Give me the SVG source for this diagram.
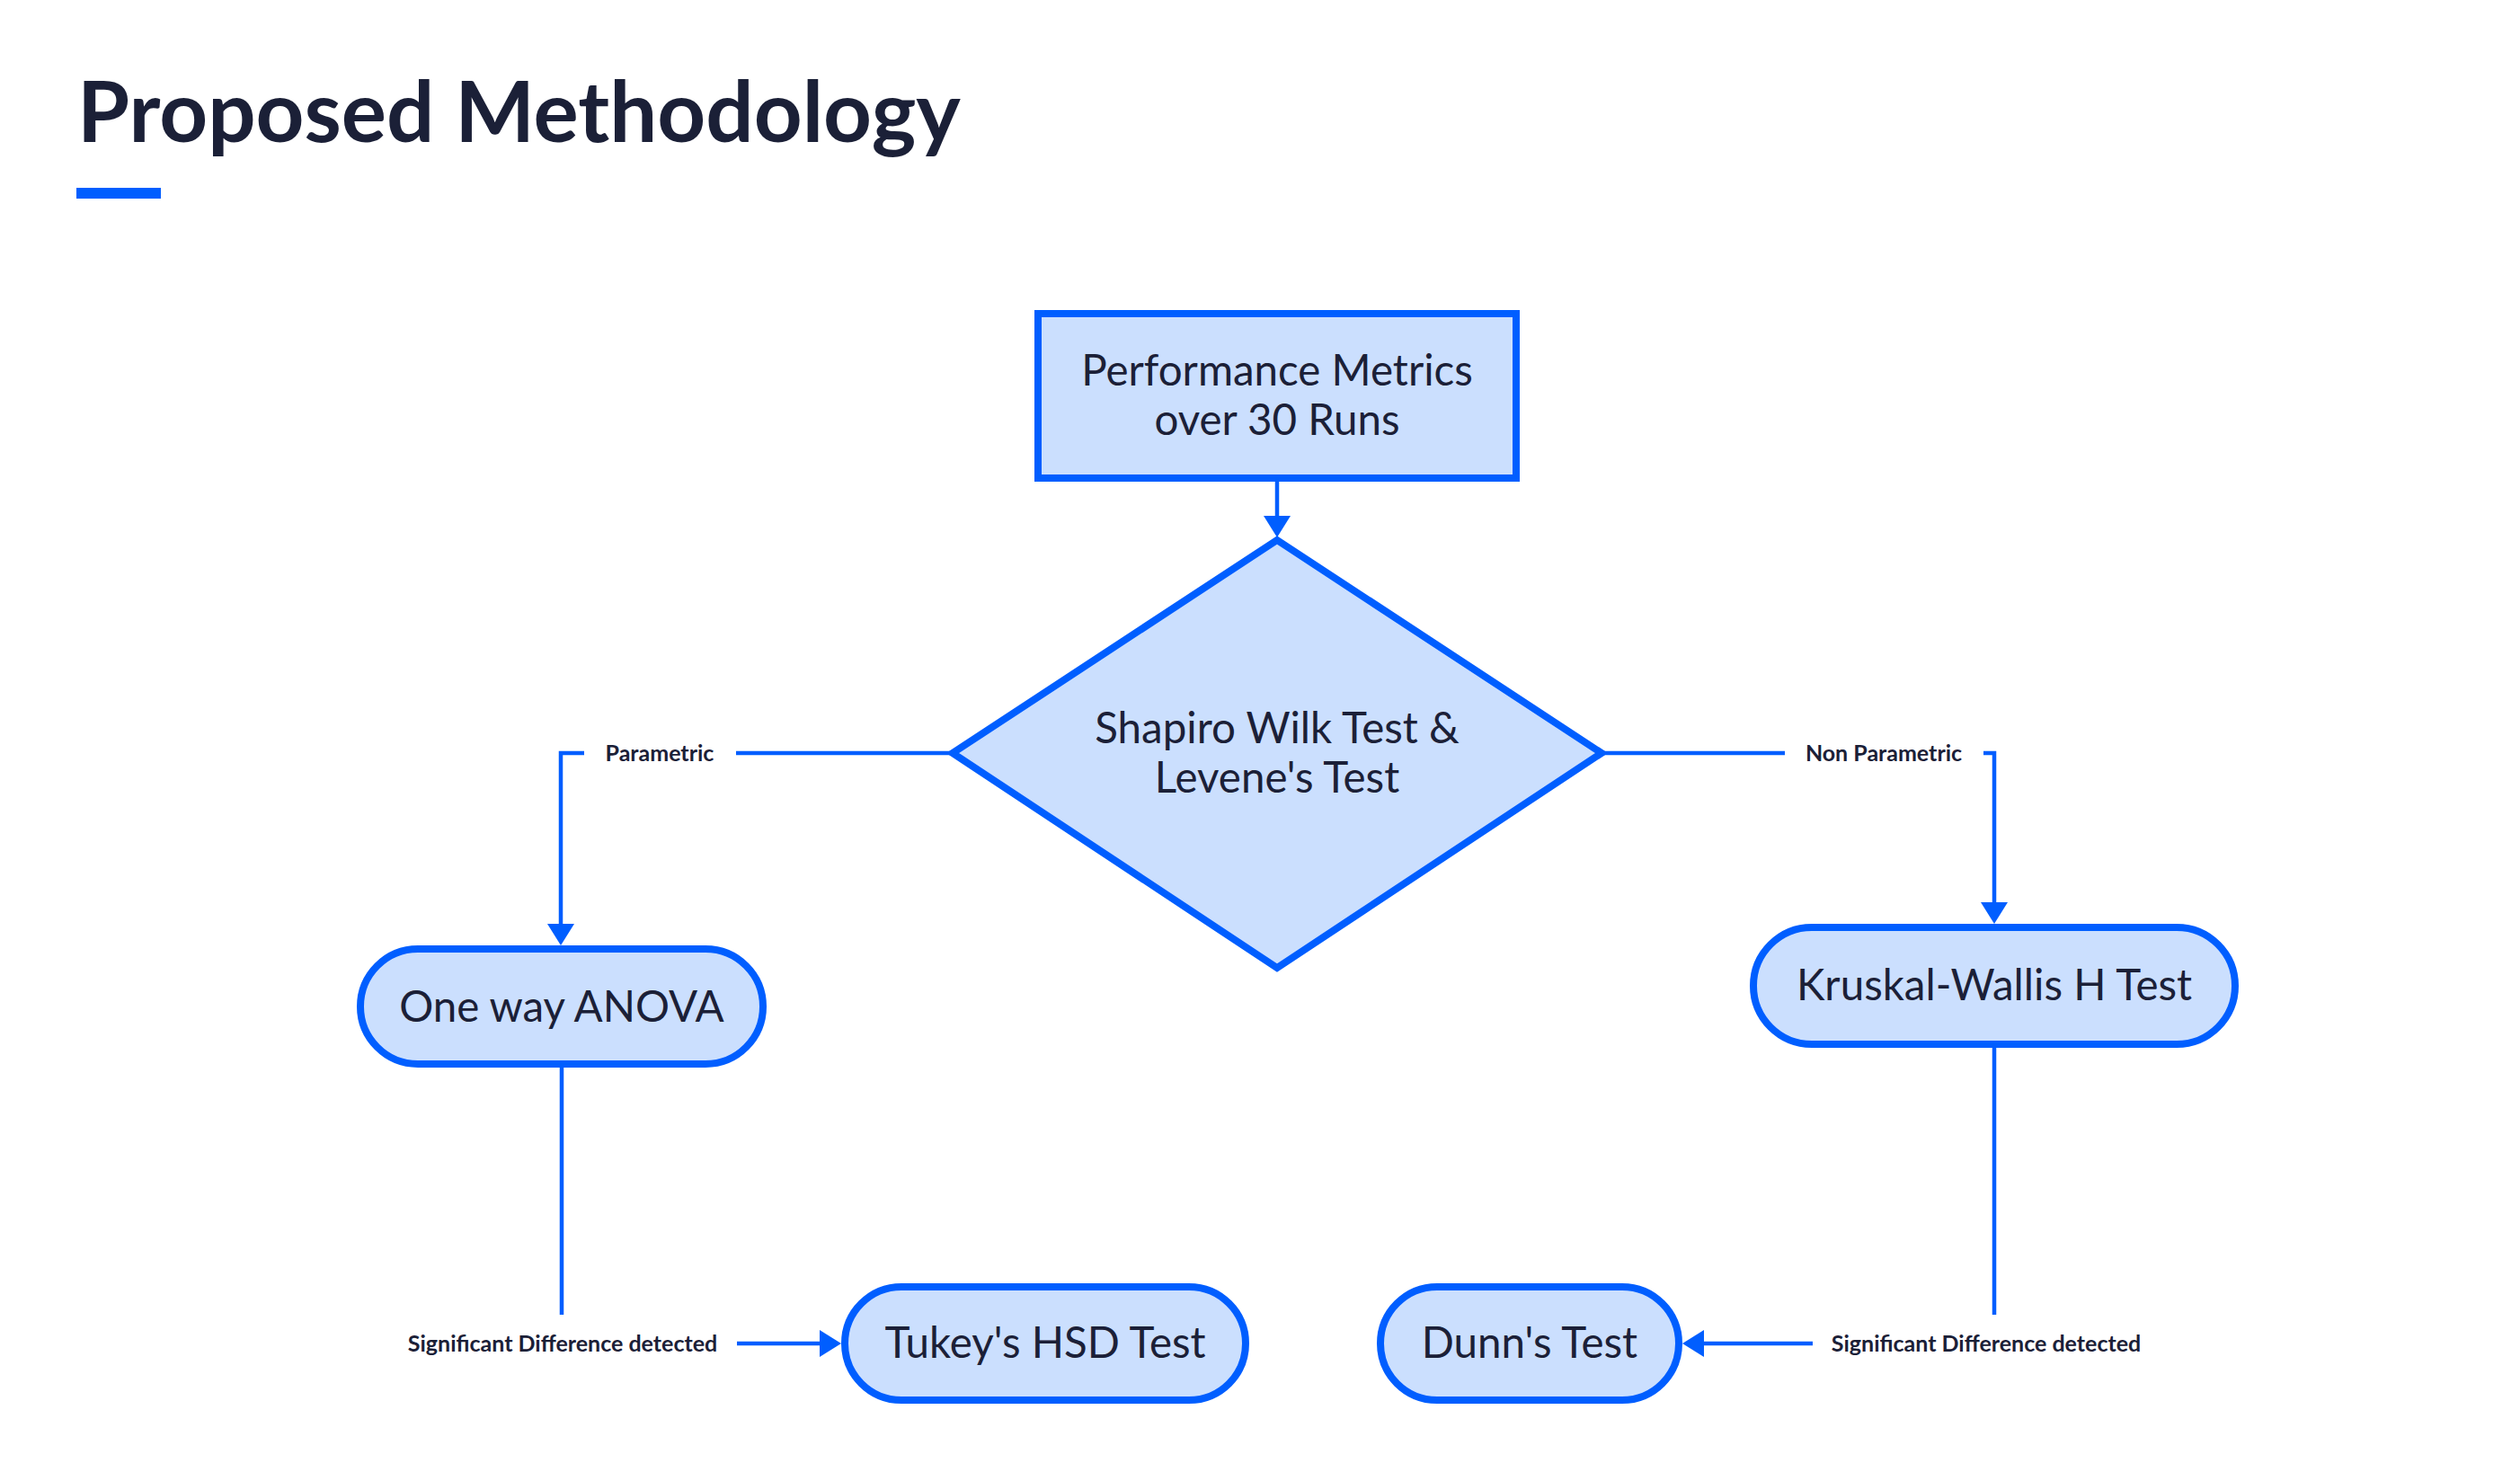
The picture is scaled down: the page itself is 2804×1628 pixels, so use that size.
<svg xmlns="http://www.w3.org/2000/svg" width="2804" height="1628" viewBox="0 0 2804 1628">
<style>
  .node { fill: #cbdffe; stroke: #005eff; stroke-width: 8; }
  .ntext { font-family: Lato, "Noto Sans", sans-serif; font-size: 47.5px; fill: #1b2037; text-anchor: middle; }
  .edge { fill: none; stroke: #005eff; stroke-width: 4.5; }
  .lbg { fill: #ffffff; }
  .ltext { font-family: Lato, "Noto Sans", sans-serif; font-size: 25px; font-weight: 700; fill: #1b2037; text-anchor: middle; }
  .title { font-family: Lato, "Noto Sans", sans-serif; font-size: 94px; font-weight: 700; fill: #1b2037; }
</style>
<defs>
  <marker id="arrow" markerUnits="userSpaceOnUse" markerWidth="24" markerHeight="30" refX="0" refY="15" orient="auto" viewBox="0 0 24 30">
    <path d="M0,0 L24,15 L0,30 z" fill="#005eff"/>
  </marker>
</defs>
<rect width="2804" height="1628" fill="#ffffff"/>
<g id="title">
  <text class="title" x="86" y="158">Proposed Methodology</text>
  <rect x="85" y="209" width="94" height="12" fill="#005eff"/>
</g>
<g id="connectors">
  <path class="edge" d="M1421,536 V574" marker-end="url(#arrow)"/>
  <path class="edge" d="M1057,838 H624 V1028" marker-end="url(#arrow)"/>
  <path class="edge" d="M1784,838 H2219 V1004" marker-end="url(#arrow)"/>
  <path class="edge" d="M625,1188 V1495 H912" marker-end="url(#arrow)"/>
  <path class="edge" d="M2219,1166 V1495 H1896" marker-end="url(#arrow)"/>
  <g id="label-parametric">
    <rect class="lbg" x="650" y="806" width="169" height="64"/>
    <text class="ltext" x="734" y="847">Parametric</text>
  </g>
  <g id="label-nonparametric">
    <rect class="lbg" x="1986" y="806" width="221" height="64"/>
    <text class="ltext" x="2096" y="847">Non Parametric</text>
  </g>
  <g id="label-sig-left">
    <rect class="lbg" x="431" y="1463" width="389" height="64"/>
    <text class="ltext" x="626" y="1504">Significant Difference detected</text>
  </g>
  <g id="label-sig-right">
    <rect class="lbg" x="2017" y="1463" width="386" height="64"/>
    <text class="ltext" x="2210" y="1504">Significant Difference detected</text>
  </g>
</g>
<g id="node-metrics">
  <rect class="node" x="1155" y="349" width="532" height="183"/>
  <text class="ntext" x="1421" y="429">Performance Metrics</text>
  <text class="ntext" x="1421" y="484">over 30 Runs</text>
</g>
<g id="node-shapiro">
  <polygon class="node" points="1421,601 1782,838 1421,1077 1060,838"/>
  <text class="ntext" x="1421" y="827">Shapiro Wilk Test &amp;</text>
  <text class="ntext" x="1421" y="882">Levene's Test</text>
</g>
<g id="node-anova">
  <rect class="node" x="401" y="1056" width="448" height="128" rx="64"/>
  <text class="ntext" x="625" y="1137">One way ANOVA</text>
</g>
<g id="node-kruskal">
  <rect class="node" x="1951" y="1032" width="536" height="130" rx="65"/>
  <text class="ntext" x="2219" y="1113">Kruskal-Wallis H Test</text>
</g>
<g id="node-tukey">
  <rect class="node" x="940" y="1432" width="446" height="126" rx="63"/>
  <text class="ntext" x="1163" y="1511">Tukey's HSD Test</text>
</g>
<g id="node-dunn">
  <rect class="node" x="1536" y="1432" width="332" height="126" rx="63"/>
  <text class="ntext" x="1702" y="1511">Dunn's Test</text>
</g>
</svg>
